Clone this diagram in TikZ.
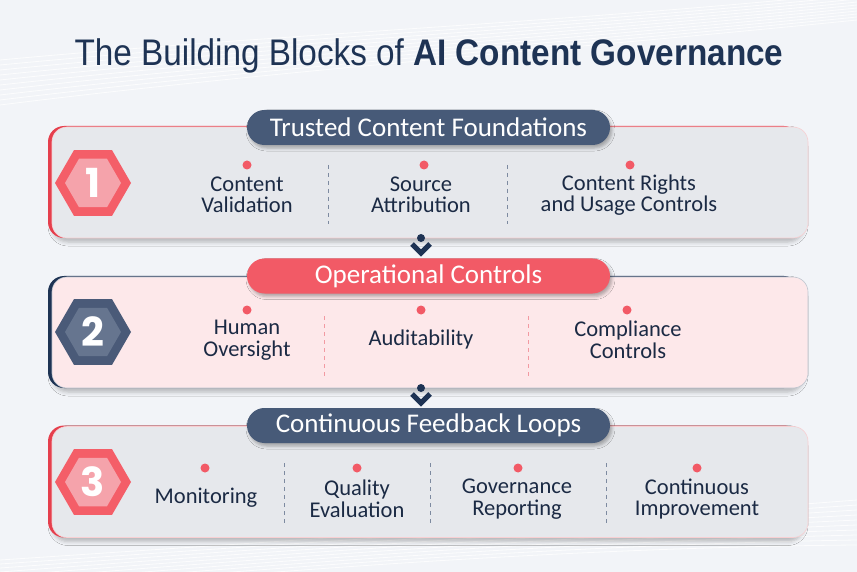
\documentclass[tikz,border=0pt]{standalone}
\usepackage{fontspec}
\setmainfont{Carlito}
\newfontfamily\titlefont[FakeStretch=0.9]{Liberation Sans}
\newfontfamily\numfont{Poppins}
\usetikzlibrary{shapes.geometric,shadows.blur}

\definecolor{bgcol}{HTML}{F2F4F8}
\definecolor{navy}{HTML}{1E3354}
\definecolor{slate}{HTML}{475A78}
\definecolor{coral}{HTML}{F25A66}
\definecolor{ink}{HTML}{1B2A44}
\definecolor{panelgray}{HTML}{E6E8EC}
\definecolor{panelpink}{HTML}{FDE8EA}
\definecolor{stripered}{HTML}{E53F4D}
\definecolor{hexred}{HTML}{F45E68}
\definecolor{hexpink}{HTML}{F5A3AB}
\definecolor{hexnavy}{HTML}{4A5A78}
\definecolor{hexslate}{HTML}{66758F}
\definecolor{sepgray}{HTML}{7D8AA0}
\definecolor{seppink}{HTML}{F29AA2}

\begin{document}
\begin{tikzpicture}[x=1pt,y=-1pt,
    back/.style={rectangle, rounded corners=16pt, minimum width=752pt, minimum height=112pt, inner sep=0pt,
        blur shadow={shadow xshift=4pt, shadow yshift=-4pt, shadow blur radius=4pt, shadow opacity=25}},
    panel/.style={rectangle, rounded corners=15pt, minimum width=756pt, minimum height=111pt, inner sep=0pt, line width=0.6pt},
    pill/.style={rectangle, rounded corners=17.5pt, minimum width=363pt, minimum height=35pt, inner sep=0pt,
        text=white, font=\fontsize{27}{27}\selectfont,
        blur shadow={shadow xshift=2pt, shadow yshift=-3pt, shadow blur radius=3pt, shadow opacity=30}},
    hexo/.style={regular polygon, regular polygon sides=6, minimum size=76pt, inner sep=0pt},
    hexi/.style={regular polygon, regular polygon sides=6, minimum size=56pt, inner sep=0pt,
        text=white, font=\numfont\bfseries\fontsize{40}{40}\selectfont},
    item/.style={align=center, text=ink, font=\fontsize{22.5}{21.5}\selectfont, inner sep=0pt},
    dot/.style={circle, fill=coral, minimum size=9pt, inner sep=0pt},
    sep/.style={dash pattern=on 4pt off 4pt, line width=0.9pt},
    chev/.style={draw=navy, line width=5pt, miter limit=10}
]
    % background
    \useasboundingbox (0,0) rectangle (857,572);
    \fill[bgcol] (0,0) rectangle (857,572);
    \begin{scope}
        \clip (0,0) rectangle (857,572);
        \foreach \k in {0,...,9}
            \draw[white, line width=0.8pt, opacity=.8] (0,105-\k*5) .. controls (280,70-\k*4) and (560,50-\k*3) .. (857,20-\k*3);
        \foreach \k in {0,...,9}
            \draw[white, line width=0.8pt, opacity=.8] (0,560+\k*4) .. controls (300,540+\k*3) and (600,520+\k*3) .. (857,500+\k*5);
    \end{scope}

    \node[text=navy, font=\titlefont\fontsize{37}{37}\selectfont] (title) at (429,56)
        {The Building Blocks of \textbf{AI Content Governance}};

    % block 1
    \node[back, fill=stripered] (bk1) at (424,182) {};
    \node[panel, fill=panelgray, draw=stripered!25] (blk1) at (430,182.5) {};
    \node[pill, fill=slate] (hd1) at (428.5,127.5) {Trusted Content Foundations};
    \node[hexo, fill=hexred] (hx1) at (93,183) {};
    \node[hexi, fill=hexpink] (n1) at (93,183) {1};
    \node[dot] (d11) at (247,165) {};
    \node[dot] (d12) at (424,165) {};
    \node[dot] (d13) at (630,165) {};
    \node[item] (t11) at (247,195) {Content\\Validation};
    \node[item] (t12) at (421,195) {Source\\Attribution};
    \node[item] (t13) at (629,195) {Content Rights\\and Usage Controls};
    \draw[sep, draw=sepgray] (328,165) -- (328,224);
    \draw[sep, draw=sepgray] (507,165) -- (507,224);

    % block 2
    \node[back, fill=navy] (bk2) at (424,332) {};
    \node[panel, fill=panelpink, draw=sepgray!50] (blk2) at (430,332.5) {};
    \node[pill, fill=coral] (hd2) at (428.5,276) {Operational Controls};
    \node[hexo, fill=hexnavy] (hx2) at (93,332) {};
    \node[hexi, fill=hexslate] (n2) at (93,332) {2};
    \node[dot] (d21) at (247,310) {};
    \node[dot] (d22) at (421,310) {};
    \node[dot] (d23) at (627,310) {};
    \node[item] (t21) at (247,340) {Human\\Oversight};
    \node[item] (t22) at (421,340) {Auditability};
    \node[item] (t23) at (628,340) {Compliance\\Controls};
    \draw[sep, draw=seppink] (324,316) -- (324,376);
    \draw[sep, draw=seppink] (528,316) -- (528,376);

    % block 3
    \node[back, fill=stripered] (bk3) at (424,481.5) {};
    \node[panel, fill=panelgray, draw=stripered!25] (blk3) at (430,482) {};
    \node[pill, fill=slate] (hd3) at (428.5,425.5) {Continuous Feedback Loops};
    \node[hexo, fill=hexred] (hx3) at (93,482) {};
    \node[hexi, fill=hexpink] (n3) at (93,482) {3};
    \node[dot] (d31) at (205,468) {};
    \node[dot] (d32) at (357,468) {};
    \node[dot] (d33) at (518,468) {};
    \node[dot] (d34) at (697,468) {};
    \node[item] (t31) at (206,498) {Monitoring};
    \node[item] (t32) at (357,499) {Quality\\Evaluation};
    \node[item] (t33) at (517,499) {Governance\\Reporting};
    \node[item] (t34) at (697,499) {Continuous\\Improvement};
    \draw[sep, draw=sepgray] (284,463) -- (284,523);
    \draw[sep, draw=sepgray] (430,463) -- (430,523);
    \draw[sep, draw=sepgray] (606,463) -- (606,523);

    % chevrons between blocks
    \node[circle, fill=navy, minimum size=8pt, inner sep=0pt] (ar1) at (421,238) {};
    \draw[chev] ([shift={(-9,6)}]ar1.center) -- ([shift={(0,15)}]ar1.center) -- ([shift={(9,6)}]ar1.center);
    \node[circle, fill=navy, minimum size=8pt, inner sep=0pt] (ar2) at (421,388) {};
    \draw[chev] ([shift={(-9,6)}]ar2.center) -- ([shift={(0,15)}]ar2.center) -- ([shift={(9,6)}]ar2.center);
\end{tikzpicture}
\end{document}
